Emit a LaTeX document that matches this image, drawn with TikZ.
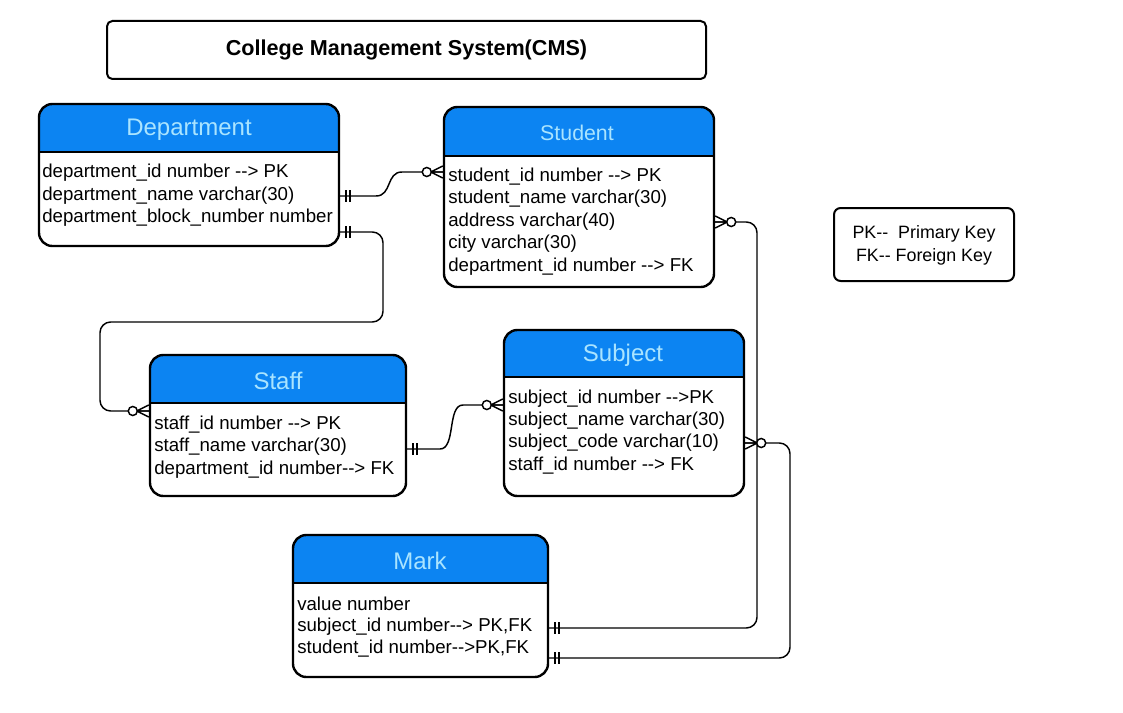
\documentclass[tikz,border=0pt]{standalone}
\usepackage{fontspec}
\setmainfont{Liberation Sans}[Ligatures=TeXOff]
\usetikzlibrary{fit,calc}
\definecolor{hdr}{RGB}{12,132,242}
\definecolor{hdrtxt}{RGB}{170,228,255}
\tikzset{
  ent/.style={draw, line width=1.8pt, rounded corners=10pt, inner sep=0pt},
  row/.style={anchor=west, inner sep=0pt, font=\fontsize{14}{16}\selectfont},
  htitle/.style={text=hdrtxt, inner sep=0pt, font=\fontsize{18}{20}\selectfont},
  conn/.style={line width=1.1pt},
  zmany/.pic={
    \draw[conn] (0,-6) -- (-12,0) -- (0,6) (-12,0) -- (0,0);
    \draw[conn, fill=white] (-16,0) circle[radius=3.4pt];
  },
  oneone/.pic={
    \draw[conn] (6,-6) -- (6,6) (10,-6) -- (10,6);
  }
}
\newcommand\erbox[6]{%
  \begin{scope}
    \clip (#2,#3) rectangle (#4,#6);
    \fill[hdr, rounded corners=10pt] (#2,#3) rectangle (#4,#5);
  \end{scope}
  \draw[line width=1.4pt] (#2,#6) -- (#4,#6);
  \node[ent, fit={(#2,#3) (#4,#5)}] (#1) {};
}
\begin{document}
\begin{tikzpicture}[x=0.75pt, y=-0.75pt]
\useasboundingbox[fill=white] (0,0) rectangle (1123,713);

% title
\node[draw, line width=1.5pt, rounded corners=4pt, inner sep=0pt, fit={(107,21) (706,79)}] (titlebox) {};
\node[inner sep=0pt, font=\bfseries\fontsize{16.2}{18}\selectfont] (title) at (titlebox.center) {College Management System(CMS)};

% legend
\node[draw, line width=1.5pt, rounded corners=5pt, inner sep=0pt, fit={(834,208) (1014,281)}] (legend) {};
\node[inner sep=0pt, font=\fontsize{13.4}{16}\selectfont] (lg1) at (924,234) {PK--\ \ Primary Key};
\node[inner sep=0pt, font=\fontsize{13.4}{16}\selectfont] (lg2) at (924,257) {FK-- Foreign Key};

% Department
\erbox{dept}{39}{104}{339}{246}{152}
\node[htitle] (dt) at (189,130) {Department};
\node[row] (d1) at (42,173) {department\_id number --> PK};
\node[row] (d2) at (42,196) {department\_name varchar(30)};
\node[row] (d3) at (42,218) {department\_block\_number number};

% Student
\erbox{stu}{444}{107}{714}{287}{156}
\node[htitle, font=\fontsize{16}{18}\selectfont] (st) at (577,133) {Student};
\node[row] (s1) at (448,177) {student\_id number --> PK};
\node[row] (s2) at (448,199) {student\_name varchar(30)};
\node[row] (s3) at (448,222) {address varchar(40)};
\node[row] (s4) at (448,244) {city varchar(30)};
\node[row] (s5) at (448,267) {department\_id number --> FK};

% Staff
\erbox{staff}{150}{355}{406}{496}{403}
\node[htitle] (sft) at (278,381) {Staff};
\node[row] (f1) at (154,425) {staff\_id number --> PK};
\node[row] (f2) at (154,447) {staff\_name varchar(30)};
\node[row] (f3) at (154,470) {department\_id number--> FK};

% Subject
\erbox{subj}{504}{330}{744}{496}{377}
\node[htitle] (sbt) at (623,355) {Subject};
\node[row] (b1) at (508,399) {subject\_id number -->PK};
\node[row] (b2) at (508,421) {subject\_name varchar(30)};
\node[row] (b3) at (508,443) {subject\_code varchar(10)};
\node[row] (b4) at (508,466) {staff\_id number --> FK};

% Mark
\erbox{mark}{293}{535}{548}{677}{583}
\node[htitle] (mt) at (420,561) {Mark};
\node[row] (m1) at (297,604) {value number};
\node[row] (m2) at (297,627) {subject\_id number--> PK,FK};
\node[row] (m3) at (297,649) {student\_id number-->PK,FK};

% connectors
\draw[conn] (dept.east |- 0,196) -- (376,196) .. controls (392,196) and (386,172) .. (402,172) -- (stu.west |- 0,172);
\draw[conn, rounded corners=8pt] (dept.east |- 0,232) -- (383,232) -- (383,322) -- (100,322) -- (100,411) -- (staff.west |- 0,411);
\draw[conn, rounded corners=8pt] (stu.east |- 0,222) -- (757,222) -- (757,628) -- (mark.east |- 0,628);
\draw[conn, rounded corners=8pt] (subj.east |- 0,443) -- (790,443) -- (790,658) -- (mark.east |- 0,658);
\draw[conn] (staff.east |- 0,449) -- (440,449) .. controls (456,449) and (447,405) .. (463,405) -- (subj.west |- 0,405);

% ends
\path (dept.east |- 0,196) pic{oneone};
\path (dept.east |- 0,232) pic{oneone};
\path (stu.west |- 0,172) pic{zmany};
\path (staff.west |- 0,411) pic{zmany};
\path (stu.east |- 0,222) pic[xscale=-1]{zmany};
\path (mark.east |- 0,628) pic{oneone};
\path (subj.east |- 0,443) pic[xscale=-1]{zmany};
\path (mark.east |- 0,658) pic{oneone};
\path (staff.east |- 0,449) pic{oneone};
\path (subj.west |- 0,405) pic{zmany};
\end{tikzpicture}
\end{document}
